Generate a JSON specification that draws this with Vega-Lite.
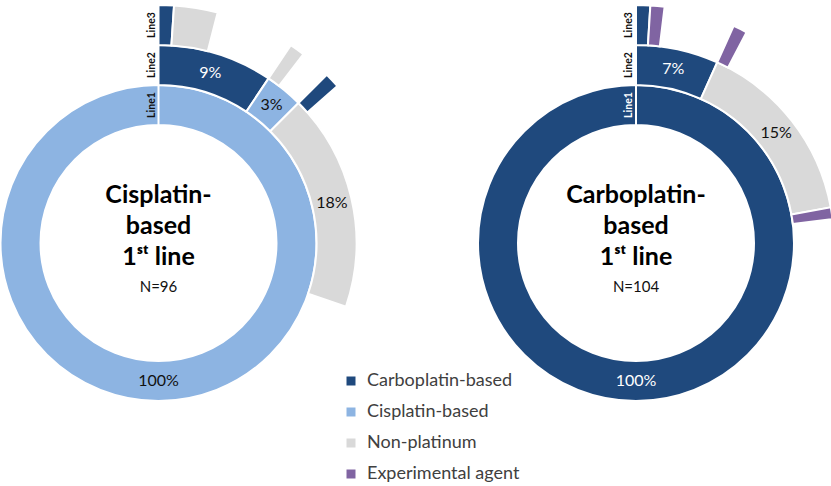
{
  "$schema": "https://vega.github.io/schema/vega-lite/v6.json",
  "width": 831,
  "height": 486,
  "autosize": "none",
  "padding": 0,
  "background": "white",
  "config": {"view": {"stroke": null}, "font": "Lato", "text": {"font": "Lato"}},
  "datasets": {
    "arcs": [
      {"chart": "Cisplatin", "line": "Line1", "level": 1, "type": "Cisplatin-based", "start": 0, "end": 100, "label": "100%"},
      {"chart": "Cisplatin", "line": "Line2", "level": 2, "type": "Carboplatin-based", "start": 0, "end": 9.38, "label": "9%"},
      {"chart": "Cisplatin", "line": "Line2", "level": 2, "type": "Cisplatin-based", "start": 9.38, "end": 12.5, "label": "3%"},
      {"chart": "Cisplatin", "line": "Line2", "level": 2, "type": "Non-platinum", "start": 12.5, "end": 30.21, "label": "18%"},
      {"chart": "Cisplatin", "line": "Line3", "level": 3, "type": "Carboplatin-based", "start": 0, "end": 1.04, "label": ""},
      {"chart": "Cisplatin", "line": "Line3", "level": 3, "type": "Non-platinum", "start": 1.04, "end": 4.0, "label": ""},
      {"chart": "Cisplatin", "line": "Line3", "level": 3, "type": "Non-platinum", "start": 9.38, "end": 10.42, "label": ""},
      {"chart": "Cisplatin", "line": "Line3", "level": 3, "type": "Carboplatin-based", "start": 12.5, "end": 13.54, "label": ""},
      {"chart": "Carboplatin", "line": "Line1", "level": 1, "type": "Carboplatin-based", "start": 0, "end": 100, "label": "100%"},
      {"chart": "Carboplatin", "line": "Line2", "level": 2, "type": "Carboplatin-based", "start": 0, "end": 6.73, "label": "7%"},
      {"chart": "Carboplatin", "line": "Line2", "level": 2, "type": "Non-platinum", "start": 6.73, "end": 22.12, "label": "15%"},
      {"chart": "Carboplatin", "line": "Line2", "level": 2, "type": "Experimental agent", "start": 22.12, "end": 23.08, "label": ""},
      {"chart": "Carboplatin", "line": "Line3", "level": 3, "type": "Carboplatin-based", "start": 0, "end": 0.96, "label": ""},
      {"chart": "Carboplatin", "line": "Line3", "level": 3, "type": "Experimental agent", "start": 0.96, "end": 1.92, "label": ""},
      {"chart": "Carboplatin", "line": "Line3", "level": 3, "type": "Experimental agent", "start": 6.73, "end": 7.69, "label": ""}
    ],
    "lines": [
      {"chart": "Cisplatin", "line": "Line1", "level": 1},
      {"chart": "Cisplatin", "line": "Line2", "level": 2},
      {"chart": "Cisplatin", "line": "Line3", "level": 3},
      {"chart": "Carboplatin", "line": "Line1", "level": 1},
      {"chart": "Carboplatin", "line": "Line2", "level": 2},
      {"chart": "Carboplatin", "line": "Line3", "level": 3}
    ],
    "titles": [
      {"chart": "Cisplatin", "title": "Cisplatin-\nbased\n1ˢᵗ line", "n": "N=96"},
      {"chart": "Carboplatin", "title": "Carboplatin-\nbased\n1ˢᵗ line", "n": "N=104"}
    ]
  },
  "encoding": {
    "x": {"field": "chart", "type": "nominal", "scale": {"type": "point", "domain": ["Cisplatin", "Carboplatin"], "range": [158.5, 636], "padding": 0}, "axis": null}
  },
  "layer": [
    {
      "data": {"name": "arcs"},
      "transform": [{"calculate": "datum.level - 1", "as": "level0"}],
      "mark": {"type": "arc", "stroke": "white", "strokeWidth": 2},
      "encoding": {
        "theta": {"field": "start", "type": "quantitative", "stack": null, "scale": {"domain": [0, 100], "range": [0, 6.283185307]}},
        "theta2": {"field": "end"},
        "radius": {"field": "level", "type": "quantitative", "scale": {"type": "linear", "domain": [0, 3], "range": [118, 238], "zero": false}},
        "radius2": {"field": "level0"},
        "color": {
          "field": "type", "type": "nominal",
          "scale": {"domain": ["Carboplatin-based", "Cisplatin-based", "Non-platinum", "Experimental agent"], "range": ["#1F497D", "#8DB4E2", "#D9D9D9", "#8064A2"]},
          "legend": {"orient": "none", "legendX": 342, "legendY": 372, "title": null, "symbolType": "square", "symbolSize": 81, "symbolStrokeWidth": 0, "labelFontSize": 18, "labelColor": "#404040", "labelFont": "Lato", "rowPadding": 13, "labelOffset": 7, "padding": 0}
        }
      }
    },
    {
      "data": {"name": "arcs"},
      "transform": [
        {"filter": "datum.label !== ''"},
        {"calculate": "(datum.start + datum.end) / 2", "as": "mid"},
        {"calculate": "datum.level - 0.5", "as": "levelMid"}
      ],
      "mark": {"type": "text", "fontSize": 16, "align": "center", "baseline": "middle"},
      "encoding": {
        "theta": {"field": "mid", "type": "quantitative", "stack": null},
        "radius": {"field": "levelMid", "type": "quantitative"},
        "text": {"field": "label"},
        "color": {"condition": {"test": "datum.type === 'Carboplatin-based'", "value": "white"}, "value": "#111111"}
      }
    },
    {
      "data": {"name": "lines"},
      "transform": [{"calculate": "datum.level - 0.5", "as": "levelMid"}],
      "mark": {"type": "text", "fontSize": 10.5, "fontWeight": "bold", "angle": 270, "align": "center", "baseline": "bottom", "dy": -2},
      "encoding": {
        "theta": {"value": 0},
        "radius": {"field": "levelMid", "type": "quantitative"},
        "text": {"field": "line"},
        "color": {"condition": {"test": "datum.chart === 'Carboplatin' && datum.level === 1", "value": "white"}, "value": "#111111"}
      }
    },
    {
      "data": {"name": "titles"},
      "mark": {"type": "text", "fontSize": 25, "fontWeight": "bold", "lineBreak": "\n", "lineHeight": 31, "align": "center", "baseline": "middle", "dy": -48, "color": "#000000"},
      "encoding": {"text": {"field": "title"}}
    },
    {
      "data": {"name": "titles"},
      "mark": {"type": "text", "fontSize": 15, "align": "center", "baseline": "middle", "dy": 44, "color": "#111111"},
      "encoding": {"text": {"field": "n"}}
    }
  ]
}
